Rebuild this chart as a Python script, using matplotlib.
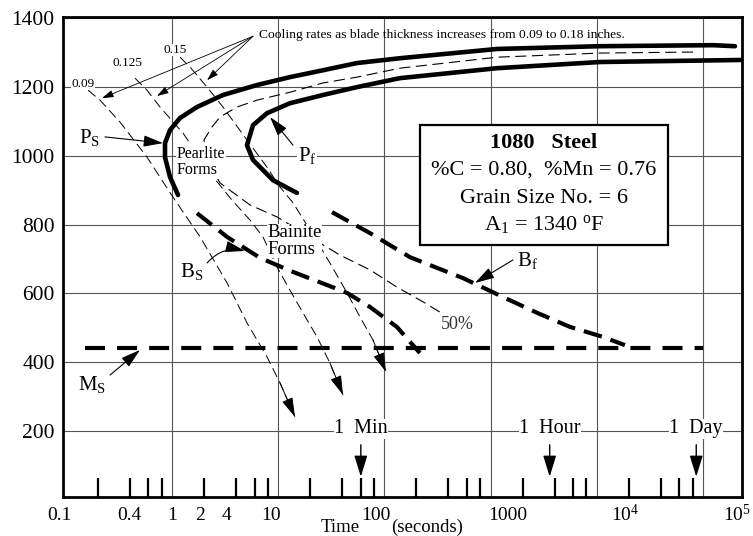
import matplotlib
matplotlib.use('Agg')
import matplotlib.pyplot as plt
import matplotlib.transforms as mtransforms
from matplotlib.patches import Rectangle
from matplotlib.ticker import NullFormatter

plt.rcParams['font.family'] = ['Liberation Serif', 'DejaVu Serif']
plt.rcParams['mathtext.fontset'] = 'custom'
plt.rcParams['mathtext.rm'] = 'Liberation Serif'
plt.rcParams['mathtext.it'] = 'Liberation Serif:italic'
plt.rcParams['mathtext.bf'] = 'Liberation Serif:bold'

# ---------------- data (time in seconds, temperature in degF) ----------------
ps_time = [1.14, 0.958, 0.859, 0.859, 0.958, 1.19, 1.72, 3.02, 6.31, 12.9, 26.4, 55.2, 140, 1150, 10700, 124000, 200000]
ps_temp = [886, 938, 996, 1037, 1075, 1110, 1142, 1177, 1206, 1229, 1249, 1270, 1284, 1311, 1319, 1322, 1319]

pf_time = [15.0, 8.93, 5.79, 5.08, 5.79, 7.84, 12.9, 26.4, 55.2, 140, 1150, 10700, 233000]
pf_temp = [892, 929, 988, 1031, 1089, 1124, 1153, 1177, 1200, 1226, 1255, 1273, 1279]

fifty_time = [80500, 10700, 1150, 140, 55.2, 26.4, 12.9, 6.31, 4.09, 2.83, 2.38, 2.0, 2.14, 2.83, 5.43, 9.75, 19.9, 38.2, 73.2, 131, 231, 334]
fifty_temp = [1302, 1299, 1287, 1255, 1229, 1212, 1185, 1162, 1142, 1113, 1084, 1046, 988, 921, 857, 822, 764, 711, 668, 618, 575, 545]

bs_time = [1.72, 3.30, 6.74, 13.8, 28.8, 44.5, 73.2, 131, 216]
bs_temp = [833, 764, 703, 662, 624, 601, 560, 502, 426]

bf_time = [32.1, 73.2, 174, 550, 1310, 2740, 5600, 11400, 18400]
bf_temp = [836, 775, 705, 644, 589, 543, 502, 473, 449]

ms_time = [0.15, 100000]
ms_temp = 440

c09_time = [0.162, 0.210, 0.324, 0.582, 1.02, 1.84, 3.30, 5.08, 7.84, 10.4, 14.4]
c09_temp = [1191, 1162, 1098, 996, 880, 764, 630, 514, 415, 339, 240]
c125_time = [0.448, 0.582, 0.771, 1.27, 2.28, 3.67, 5.43, 7.19, 9.75, 12.9, 17.1, 23.2, 30.7, 40.8]
c125_temp = [1226, 1191, 1142, 1066, 950, 871, 813, 764, 676, 609, 543, 473, 397, 304]
c15_time = [1.19, 1.48, 2.14, 3.02, 5.08, 7.84, 10.4, 13.8, 20.8, 30.7, 44.5, 58.9, 78.1, 103.5]
c15_temp = [1287, 1258, 1200, 1142, 1046, 967, 909, 863, 775, 688, 601, 531, 464, 371]

cooling_labels = ['0.09', '0.125', '0.15']
cooling_label_time = [0.145, 0.377, 1.07]
cooling_label_temp = [1209, 1270, 1308]

y_ticks = [200, 400, 600, 800, 1000, 1200, 1400]
grid_decades = [1, 10, 100, 1000, 1e4, 1e5]
minor_ticks = [m * 10.0 ** k for k in range(-1, 5) for m in (2, 4, 6, 8)]
xtick_vals = [0.1, 0.4, 1, 2, 4, 10, 100, 1000, 1e4, 1e5]
xtick_labels = ['0.1', '0.4', '1', '2', '4', '10', '100', '1000',
                r'10$^\mathregular{4}$', r'10$^\mathregular{5}$']

time_marks = [60, 3600, 86400]
time_mark_labels = ['1  Min', '1  Hour', '1  Day']

# --------------------------------- figure -----------------------------------
fig = plt.figure(figsize=(7.53, 5.36), dpi=100)
ax = fig.add_axes([63 / 753, 39 / 536, 679 / 753, 480 / 536])
ax.set_xscale('log')
ax.set_xlim(0.0941, 2.33e5)
ax.set_ylim(7, 1404)

for s in ax.spines.values():
    s.set_linewidth(2)
    s.set_color('k')

ax.set_xticks(grid_decades)
ax.set_xticklabels([])
ax.set_xticks(minor_ticks, minor=True)
ax.xaxis.set_minor_formatter(NullFormatter())
ax.tick_params(axis='x', which='major', length=0)
ax.tick_params(axis='x', which='minor', direction='in', length=14, width=1.6,
               color='k', bottom=True, top=False)
ax.set_yticks(y_ticks)
ax.set_yticklabels([str(v) for v in y_ticks], fontsize=15.5)
ax.tick_params(axis='y', length=0, pad=6)
ax.grid(True, which='major', color='#555555', lw=0.8, zorder=0)
ax.set_axisbelow(True)

# x tick labels (drawn as text with slight offsets as in the original)
xtick_dx = [-6, 0, 0, -4, -9, -7, -8, 17, 28, 34]
for val, lab, dx in zip(xtick_vals, xtick_labels, xtick_dx):
    tr = mtransforms.offset_copy(ax.get_xaxis_transform(), fig=fig, x=dx, y=-18, units='dots')
    ax.text(val, 0, lab, transform=tr, ha='center', va='center', fontsize=14, clip_on=False)

# axis title (two words placed as in the original)
fig.text(340 / 753, 1 - 535.5 / 536, 'Time', ha='center', va='bottom', fontsize=13.5)
fig.text(427 / 753, 1 - 535.5 / 536, '(seconds)', ha='center', va='bottom', fontsize=13.5)

# ------------------------------ curves --------------------------------------
thick = dict(color='k', lw=3.3, solid_capstyle='round', solid_joinstyle='round', zorder=3)
ax.plot(ps_time, ps_temp, **thick)
ax.plot(pf_time, pf_temp, **thick)
ax.plot(fifty_time, fifty_temp, color='k', lw=0.8, dashes=(10, 5), zorder=2)
ax.plot(bs_time, bs_temp, color='k', lw=3, dashes=(4.5, 2.2), zorder=3)
ax.plot(bf_time, bf_temp, color='k', lw=3, dashes=(4.5, 2.2), zorder=3)
ax.plot(ms_time, [ms_temp, ms_temp], color='k', lw=3, dashes=(4.8, 2.9), zorder=3)

for t, T in ((c09_time, c09_temp), (c125_time, c125_temp), (c15_time, c15_temp)):
    ax.plot(t, T, color='k', lw=0.7, dashes=(10, 5), zorder=2)
    ax.annotate('', xy=(t[-1], T[-1]), xytext=(t[-2], T[-2]),
                arrowprops=dict(arrowstyle='-|>,head_length=1.2,head_width=0.35',
                                color='k', lw=0.7, shrinkA=0, shrinkB=0), zorder=2)

for lab, t, T in zip(cooling_labels, cooling_label_time, cooling_label_temp):
    ax.text(t, T, lab, fontsize=9.5, ha='center', va='center', zorder=5,
            bbox=dict(facecolor='white', edgecolor='none', pad=0.3))

# cooling-rate note with arrows
src = (5.79, 1348)
for tip in [(0.219, 1168), (0.722, 1174), (2.14, 1220)]:
    ax.annotate('', xy=tip, xytext=src,
                arrowprops=dict(arrowstyle='-|>,head_length=0.7,head_width=0.22',
                                color='k', lw=0.6, shrinkA=0, shrinkB=0), zorder=4)
ax.text(6.6, 1351, 'Cooling rates as blade thickness increases from 0.09 to 0.18 inches.',
        fontsize=9.7, ha='left', va='center', zorder=5)

# labelled arrows
def label_arrow(text, txy, tail, tip, fs=15, ha='center', rad=0.0):
    ax.text(txy[0], txy[1], text, fontsize=fs, ha=ha, va='center', zorder=5,
            bbox=dict(facecolor='white', edgecolor='none', pad=0.3))
    ax.annotate('', xy=tip, xytext=tail,
                arrowprops=dict(arrowstyle='-|>,head_length=1.2,head_width=0.35',
                                color='k', lw=0.8, shrinkA=0, shrinkB=0,
                                connectionstyle='arc3,rad=%g' % rad), zorder=5)

label_arrow(r'P$_\mathregular{S}$', (0.169, 1052), (0.234, 1055), (0.823, 1037))
label_arrow(r'P$_\mathregular{f}$', (18.7, 1002), (13.8, 1031), (8.37, 1113))
label_arrow(r'B$_\mathregular{S}$', (1.54, 662), (2.14, 688), (4.87, 723), rad=-0.3)
label_arrow(r'B$_\mathregular{f}$', (1773, 694), (1625, 697), (713, 630), ha='left')
label_arrow(r'M$_\mathregular{S}$', (0.177, 333), (0.261, 362), (0.50, 435))

ax.text(1.11, 982, 'Pearlite\nForms', fontsize=11.5, ha='left', va='center',
        linespacing=1.05, zorder=5, bbox=dict(facecolor='white', edgecolor='none', pad=0.3))
ax.text(7.84, 752, 'Bainite\nForms', fontsize=13.5, ha='left', va='center',
        linespacing=0.95, zorder=5, bbox=dict(facecolor='white', edgecolor='none', pad=0.3))
ax.text(483, 508, '50%', fontsize=13, ha='center', va='center', color='#333333', zorder=5)

# info box
ax.add_patch(Rectangle((216, 740), 46800 - 216, 1089 - 740, facecolor='white',
                       edgecolor='k', lw=1.6, zorder=4))
ax.text(3184, 1037, '1080   Steel', fontsize=16, fontweight='bold', ha='center', va='center', zorder=5)
ax.text(3184, 959, '%C = 0.80,  %Mn = 0.76', fontsize=16, ha='center', va='center', zorder=5)
ax.text(3184, 877, 'Grain Size No. = 6', fontsize=16, ha='center', va='center', zorder=5)
ax.text(3184, 799, r'A$_\mathregular{1}$ = 1340 $^\mathregular{o}$F', fontsize=16,
        ha='center', va='center', zorder=5)

# time markers
for t, lab in zip(time_marks, time_mark_labels):
    ax.text(t, 205, lab, fontsize=14.5, ha='center', va='center', zorder=5,
            bbox=dict(facecolor='white', edgecolor='none', pad=0.3))
    ax.annotate('', xy=(t, 66), xytext=(t, 159),
                arrowprops=dict(arrowstyle='-|>,head_length=1.3,head_width=0.4',
                                color='k', lw=1.0, shrinkA=0, shrinkB=0), zorder=5)

fig.savefig('out.png', dpi=100)
